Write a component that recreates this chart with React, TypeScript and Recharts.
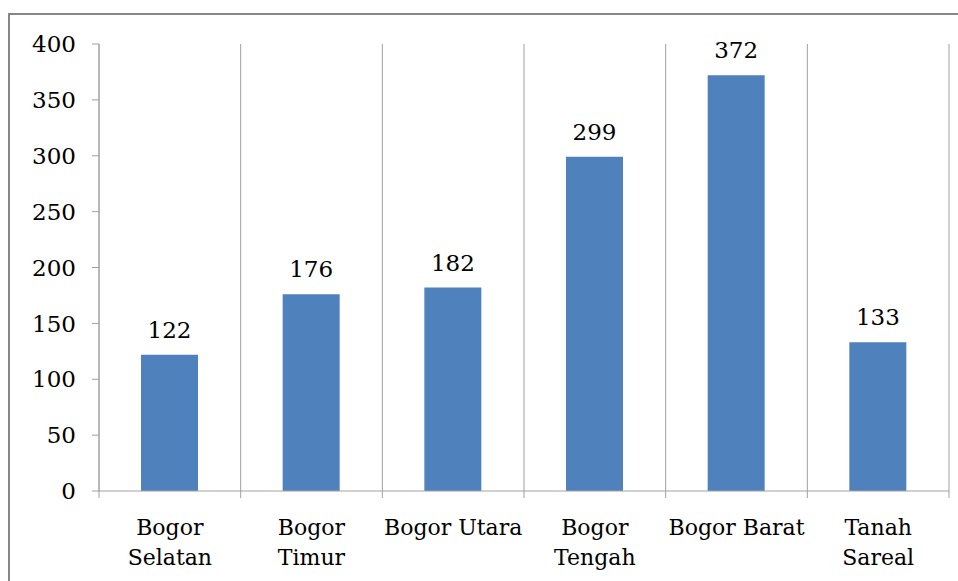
import React from 'react';
import { BarChart, Bar, XAxis, YAxis, CartesianGrid, LabelList } from 'recharts';

const kecamatan = [
  ['Bogor', 'Selatan'],
  ['Bogor', 'Timur'],
  ['Bogor Utara'],
  ['Bogor', 'Tengah'],
  ['Bogor Barat'],
  ['Tanah', 'Sareal'],
];
const jumlah = [122, 176, 182, 299, 372, 133];
const yTicks = [0, 50, 100, 150, 200, 250, 300, 350, 400];

const data = kecamatan.map((lines, i) => ({ name: lines.join(' '), value: jumlah[i] }));

const FONT = '"DejaVu Serif", serif';
const LINE = '#a0a0a0';

const CategoryTick = (props: any) => {
  const { x, y, payload, index } = props;
  const half = payload.offset || 0;
  const lines = kecamatan[index] || [payload.value];
  return (
    <g>
      <line x1={x - half} x2={x - half} y1={y} y2={y + 7} stroke={LINE} />
      {index === kecamatan.length - 1 && (
        <line x1={x + half} x2={x + half} y1={y} y2={y + 7} stroke={LINE} />
      )}
      {lines.map((t: string, i: number) => (
        <text key={i} x={x} y={y + 44 + i * 30} textAnchor="middle" fontFamily={FONT} fontSize={22} fill="#000">
          {t}
        </text>
      ))}
    </g>
  );
};

export default function App() {
  return (
    <div style={{ position: 'absolute', left: 0, top: 0, width: 958, height: 581, overflow: 'hidden', background: '#fff' }}>
      <div
        style={{
          position: 'absolute',
          left: 8,
          top: 13,
          width: 1000,
          height: 640,
          border: '2px solid #878787',
        }}
      />
      <div style={{ position: 'absolute', left: 0, top: 0 }}>
        <BarChart width={958} height={581} data={data} margin={{ top: 44, right: 9, left: 0, bottom: 0 }}>
          <CartesianGrid
            horizontal={false}
            stroke={LINE}
            verticalCoordinatesGenerator={({ offset }: any) =>
              Array.from({ length: kecamatan.length + 1 }, (_, i) => offset.left + (i * offset.width) / kecamatan.length)
            }
          />
          <XAxis
            dataKey="name"
            height={90}
            axisLine={{ stroke: LINE }}
            tickLine={false}
            tickSize={0}
            tickMargin={0}
            interval={0}
            tick={<CategoryTick />}
          />
          <YAxis
            width={99}
            domain={[0, 400]}
            ticks={yTicks}
            interval={0}
            axisLine={{ stroke: LINE }}
            tickLine={{ stroke: LINE }}
            tickSize={7}
            tickMargin={16}
            tick={{ fontFamily: FONT, fontSize: 23, fill: '#000' }}
          />
          <Bar dataKey="value" fill="#4f81bd" barSize={57} isAnimationActive={false}>
            <LabelList dataKey="value" position="top" offset={17} fontFamily={FONT} fontSize={23} fill="#000" />
          </Bar>
        </BarChart>
      </div>
    </div>
  );
}
